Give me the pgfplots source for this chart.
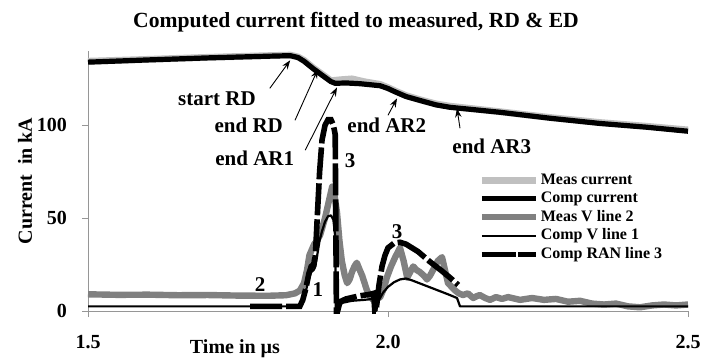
\documentclass[border=0pt]{standalone}
\usepackage{fontspec}
\setmainfont{Liberation Serif}
\usepackage{pgfplots}
\pgfplotsset{compat=1.18}
\usetikzlibrary{arrows.meta}
\definecolor{lightg}{RGB}{192,192,192}
\definecolor{midg}{RGB}{128,128,128}
\definecolor{axg}{RGB}{150,150,150}
\pgfplotsset{ranlegend/.style={legend image code/.code={\draw[##1,solid] (0pt,0pt) -- (17pt,0pt); \path (0pt,0pt) -- (27pt,0pt);}}}
\begin{document}
\begin{tikzpicture}
\begin{axis}[
  scale only axis, width=300pt, height=130pt,
  xmin=1.5, xmax=2.5, ymin=0, ymax=140,
  axis x line=bottom, axis y line=left,
  axis line style={axg, line width=0.5pt, -},
  xtick={1.5,2,2.5}, xticklabels={1.5,2.0,2.5},
  ytick={0,50,100},
  tick align=outside, major tick length=3pt,
  tick style={axg, line width=0.5pt},
  /pgf/number format/assume math mode=true,
  ticklabel style={font=\bfseries\fontsize{10}{12}\selectfont},
  xticklabel style={yshift=-5.5pt},
  yticklabel style={xshift=-4pt},
  clip=false,
  legend cell align=left,
  legend style={at={(rel axis cs:0.65,0.535)}, anchor=north west, draw=none, fill=none,
    font=\bfseries\fontsize{8}{8.5}\selectfont, inner sep=0pt, row sep=0.7pt,
    nodes={inner sep=0.8pt}},
  legend image code/.code={\draw[#1] (0pt,0pt) -- (27pt,0pt);},
]
\addplot[lightg, line width=3.4pt, line join=round] coordinates {
(1.5,134.5) (1.6,135.5) (1.7,136.6) (1.8,137.5) (1.837,137.8) (1.85,136.8) (1.86,135) (1.875,131) (1.89,127.5) (1.905,124) (1.92,124.5) (1.94,125) (1.96,123.5) (1.987,122) (2.0,120.3) (2.012,118.5) (2.03,116) (2.053,113.8) (2.08,111.5) (2.103,110.3) (2.187,107.3) (2.27,104.2) (2.353,101.5) (2.43,99.5) (2.5,97.5)};
\addlegendentry{Meas current}
\addplot[black, line width=2.6pt, line join=round] coordinates {
(1.5,134) (1.6,135.2) (1.7,136.3) (1.8,137.2) (1.837,137.5) (1.85,136.5) (1.86,134.5) (1.875,130.6) (1.89,127) (1.905,123.5) (1.912,122.6) (1.93,122.8) (1.953,122.4) (1.987,121.3) (2.0,119.8) (2.012,118) (2.03,115.5) (2.053,113.4) (2.08,111) (2.103,109.7) (2.187,107) (2.27,103.8) (2.353,101) (2.43,99) (2.5,96.8)};
\addlegendentry{Comp current}
\addplot[midg, line width=3.2pt, line join=round] coordinates {
(1.5,9) (1.55,8.7) (1.6,8.8) (1.65,8.5) (1.7,8.6) (1.75,8.3) (1.8,8.2) (1.83,8.5) (1.845,9.5) (1.853,11) (1.86,15) (1.865,22) (1.869,30) (1.873,33) (1.877,36) (1.882,38) (1.887,41) (1.895,50) (1.902,60) (1.907,67) (1.911,62) (1.915,53) (1.919,38) (1.923,27) (1.928,19) (1.932,15) (1.936,17) (1.94,21) (1.944,24) (1.948,26) (1.953,22) (1.957,19) (1.961,15) (1.965,11) (1.97,8) (1.975,6) (1.981,6.5) (1.987,7.5) (1.993,12) (1.998,18) (2.005,24) (2.012,29) (2.02,34) (2.026,27) (2.032,18) (2.037,21) (2.042,24) (2.048,22) (2.053,21) (2.06,19) (2.065,17) (2.07,19) (2.075,22) (2.083,27) (2.09,29) (2.095,22) (2.1,15) (2.106,13) (2.112,11) (2.118,9.5) (2.125,8.6) (2.133,9.5) (2.142,7) (2.148,8) (2.153,8.6) (2.162,7) (2.17,6) (2.18,7.5) (2.19,6.5) (2.2,7.5) (2.22,6) (2.24,7) (2.26,6) (2.28,6.5) (2.3,5) (2.32,5.5) (2.34,4) (2.36,3.5) (2.38,4) (2.4,2.5) (2.42,2) (2.44,3) (2.46,3.5) (2.48,3) (2.5,3.5)};
\addlegendentry{Meas V line 2}
\addplot[black, line width=1.1pt, line join=round] coordinates {
(1.5,2.5) (1.85,2.5) (1.855,4) (1.86,8) (1.864,12) (1.868,17) (1.872,21) (1.876,22) (1.879,24) (1.882,30) (1.886,38) (1.89,43) (1.895,48) (1.9,51) (1.905,51.5) (1.909,49) (1.912,40) (1.913,0) (1.915,0) (1.918,3) (1.925,4.5) (1.94,5.5) (1.96,6) (1.975,6.5) (1.977,0) (1.98,0) (1.985,6) (1.992,10) (2.0,13) (2.01,15.5) (2.02,17) (2.03,17.5) (2.04,16.5) (2.06,14) (2.08,11.5) (2.1,9) (2.115,7) (2.12,2.5) (2.5,2.5)};
\addlegendentry{Comp V line 1}
\addplot[black, line width=2.8pt, dash pattern=on 16pt off 2pt, ranlegend] coordinates {
(1.77,2.5) (1.853,2.5) (1.858,6) (1.863,12) (1.868,20) (1.872,24) (1.876,25) (1.879,30) (1.882,50) (1.886,75) (1.89,92) (1.895,100) (1.9,103) (1.905,103) (1.909,100) (1.912,95) (1.913,50) (1.914,0) (1.916,0) (1.92,5) (1.93,6.5) (1.95,8) (1.97,9) (1.976,9.5) (1.978,0) (1.98,0) (1.985,14) (1.99,24) (1.995,30) (2.0,34) (2.01,36.5) (2.02,37) (2.03,36) (2.05,32) (2.07,26.5) (2.09,21.5) (2.105,17.5) (2.117,14)};
\addlegendentry{Comp RAN line 3}
\coordinate (o) at (axis cs:1.5,0);
% annotations
\begin{scope}[every node/.style={font=\bfseries\fontsize{10.5}{12}\selectfont, inner sep=0pt}]
\node at (axis cs:1.715,114.5) {start RD};
\node at (axis cs:1.768,100) {end RD};
\node at (axis cs:1.778,82.3) {end AR1};
\node at (axis cs:1.998,100) {end AR2};
\node at (axis cs:2.173,88.7) {end AR3};
\node at (axis cs:1.937,81) {3};
\node at (axis cs:2.015,42.5) {3};
\node at (axis cs:1.787,14) {2};
\node at (axis cs:1.883,11.3) {1};
\end{scope}
\begin{scope}[line width=0.45pt, -{Stealth[length=4.5pt,width=3.2pt]}]
\draw (axis cs:1.803,119.9) -- (axis cs:1.837,135);
\draw (axis cs:1.845,102.7) -- (axis cs:1.883,130.1);
\draw (axis cs:1.862,86.6) -- (axis cs:1.915,120.4);
\draw (axis cs:2.0,105.4) -- (axis cs:2.015,114.5);
\draw (axis cs:2.12,98.4) -- (axis cs:2.115,109.1);
\end{scope}
\end{axis}
\node[font=\bfseries\fontsize{10.8}{13}\selectfont] at ([xshift=134pt,yshift=144.5pt]o) {Computed current fitted to measured, RD \& ED};
\node[font=\bfseries\fontsize{10}{12}\selectfont, rotate=90] at ([xshift=-31.5pt,yshift=65pt]o) {Current\ \ in kA};
\node[font=\bfseries\fontsize{10}{12}\selectfont] at ([xshift=73.5pt,yshift=-19pt]o) {Time in µs};
\pgfresetboundingbox
\path ([xshift=-44pt,yshift=-24.5pt]o) rectangle ++(357.5pt,180pt);
\end{tikzpicture}
\end{document}
